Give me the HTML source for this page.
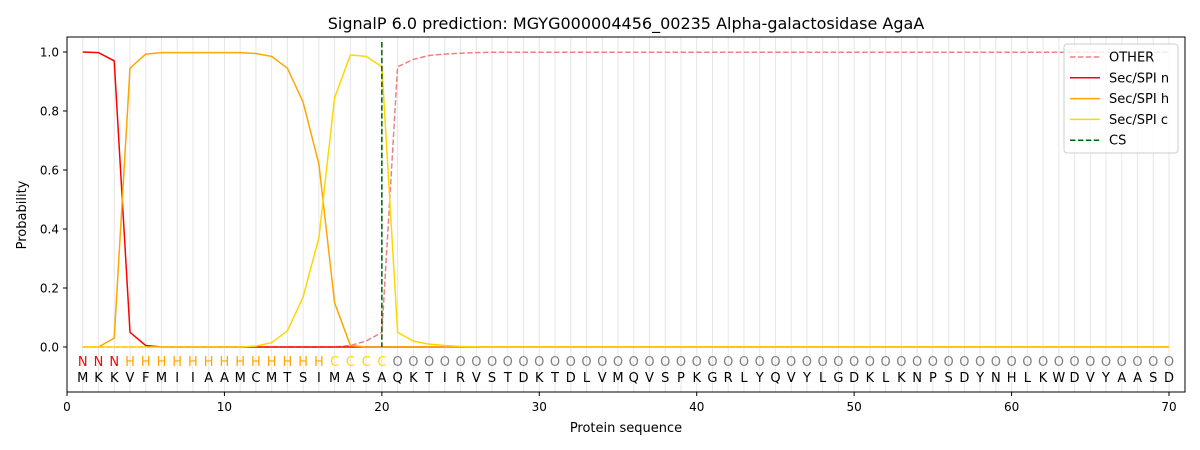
<!DOCTYPE html>
<html><head><meta charset="utf-8"><style>
html,body{margin:0;padding:0;background:#fff;}
svg{display:block;font-family:"DejaVu Sans","Liberation Sans",sans-serif;}
</style></head><body>
<svg id="s" width="1200" height="450" xmlns="http://www.w3.org/2000/svg"></svg>
<script>
const X=i=>67+15.743*i, Y=p=>347-295*p;
let h='';
h+='<rect width="1200" height="450" fill="#fff"/>';
for(let i=1;i<=70;i++) h+=`<line x1="${X(i)}" y1="37" x2="${X(i)}" y2="392" stroke="#e6e6e6" stroke-width="1"/>`;
const n=[1,0.998,0.97,0.05,0.005];
const hh=[0,0,0.03,0.945,0.993,0.998,0.998,0.998,0.998,0.998,0.998,0.995,0.985,0.945,0.83,0.62,0.15,0.005];
const c=[0,0,0,0,0,0,0,0,0,0,0,0.003,0.015,0.055,0.17,0.37,0.845,0.99,0.985,0.95,0.05,0.02,0.01,0.005,0.002];
const o=[0,0,0,0,0,0,0,0,0,0,0,0,0,0,0,0,0,0.005,0.02,0.05,0.95,0.975,0.988,0.993,0.996,0.998];
function ser(a,fill,col,dash){let pts=[];for(let i=1;i<=70;i++){let v=i<=a.length?a[i-1]:fill;pts.push(X(i).toFixed(1)+','+Y(v).toFixed(1));}
return `<polyline points="${pts.join(' ')}" fill="none" stroke="${col}" stroke-width="1.5" ${dash?'stroke-dasharray="5.5,2.4"':''}/>`;}
h+=ser(o,0.999,'#f08080',true);
h+=ser(n,0,'#ff0000');
h+=ser(hh,0,'#ffa500');
h+=ser(c,0,'#ffd700');
h+=`<line x1="${X(20)}" y1="42" x2="${X(20)}" y2="347" stroke="#006400" stroke-width="1.5" stroke-dasharray="5.5,2.4"/>`;
const seq="MKKVFMIIAAMCMTSIMASAQKTIRVSTDKTDLVMQVSPKGRLYQVYLGDKLKNPSDYNHLKWDVYAASD";
for(let i=1;i<=70;i++){let t,col;if(i<=3){t='N';col='#ff0000'}else if(i<=16){t='H';col='#ffa500'}else if(i<=20){t='C';col='#ffd700'}else{t='O';col='#808080'}
h+=`<text x="${X(i)}" y="366" font-size="13" fill="${col}" text-anchor="middle">${t}</text>`;
h+=`<text x="${X(i)}" y="382" font-size="13" fill="#000" text-anchor="middle">${seq[i-1]}</text>`;}
h+='<rect x="67" y="37" width="1118" height="355" fill="none" stroke="#000" stroke-width="1"/>';
for(let k=0;k<=5;k++){let p=k*0.2,y=Y(p);h+=`<line x1="63" y1="${y}" x2="67" y2="${y}" stroke="#000"/><text x="59" y="${y+4.5}" font-size="12" text-anchor="end">${p.toFixed(1)}</text>`;}
for(let k=0;k<=70;k+=10){let x=X(k);h+=`<line x1="${x}" y1="392" x2="${x}" y2="396" stroke="#000"/><text x="${x}" y="411" font-size="12" text-anchor="middle">${k}</text>`;}
h+='<text x="626" y="432" font-size="13" text-anchor="middle">Protein sequence</text>';
h+='<text transform="translate(26,215) rotate(-90)" font-size="13" text-anchor="middle">Probability</text>';
h+='<text x="626" y="29" font-size="16" text-anchor="middle">SignalP 6.0 prediction: MGYG000004456_00235 Alpha-galactosidase AgaA</text>';
h+='<rect x="1064" y="44" width="114" height="109" rx="3" fill="#fff" fill-opacity="0.8" stroke="#ccc"/>';
const L=[['OTHER','#f08080',1],['Sec/SPI n','#ff0000',0],['Sec/SPI h','#ffa500',0],['Sec/SPI c','#ffd700',0],['CS','#006400',1]];
L.forEach((e,j)=>{let y=57+j*20.8;h+=`<line x1="1070" y1="${y}" x2="1100" y2="${y}" stroke="${e[1]}" stroke-width="1.5" ${e[2]?'stroke-dasharray="5.5,2.4"':''}/><text x="1109" y="${y+4.5}" font-size="13">${e[0]}</text>`;});
document.getElementById('s').innerHTML=h;
</script>
</body></html>
